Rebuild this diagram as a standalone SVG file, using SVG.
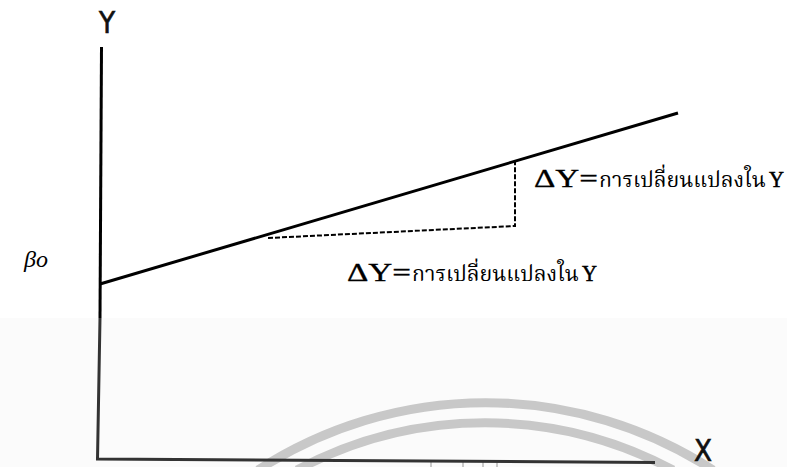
<svg xmlns="http://www.w3.org/2000/svg" width="787" height="467" viewBox="0 0 787 467">
<style>
.axis{stroke:#000;stroke-width:3;fill:none}
.ax2{stroke:#333;stroke-width:3;fill:none}
.wm{stroke:#c8c8c8;stroke-width:9;fill:none}
.dash{stroke:#000;stroke-width:2;fill:none;stroke-dasharray:5 2}
.lbl{font-family:"DejaVu Sans",sans-serif;font-size:31px;fill:#111;stroke:#111;stroke-width:0.7}
.eq{font-family:"Liberation Serif","Noto Serif Thai","Noto Sans Thai",serif;fill:#000}
.big{font-size:25px;stroke:#000;stroke-width:0.3}
.ylast{font-size:24px;stroke:#000;stroke-width:0.6}
.th{font-size:21.3px}
.beta{font-family:"Liberation Serif",serif;font-style:italic;font-size:24px;fill:#000}
</style>
<rect x="0" y="0" width="787" height="467" fill="#fff"/>
<rect x="0" y="318" width="787" height="149" fill="#fbfbfb"/>
<g id="watermark">
<path class="wm" d="M 258 470 A 418 418 0 0 1 713 470"/>
<path class="wm" d="M 297 470 A 398 398 0 0 1 673 470"/>
<g stroke="#c8c8c8" stroke-width="2">
<line x1="431" y1="462" x2="431" y2="467"/>
<line x1="463" y1="460" x2="463" y2="467"/>
<line x1="483" y1="460" x2="483" y2="467"/>
<line x1="497" y1="460" x2="497" y2="467"/>
</g>
</g>
<g id="axes">
<path class="axis" d="M 101.5 47 L 100 318"/>
<path class="ax2" d="M 100 318 L 97.5 459 L 655 462.5"/>
</g>
<g id="labels">
<text class="lbl" transform="translate(99,33) scale(0.85,1)" x="0" y="0">Y</text>
<text class="lbl" transform="translate(694,461) scale(0.85,1)" x="0" y="0">X</text>
<text class="beta" x="24" y="267">βo</text>
</g>
<g id="connectors">
<line class="axis" x1="100" y1="284" x2="678" y2="113" stroke-width="3.5"/>
<path class="dash" d="M 268 238 L 515 226 L 515 162"/>
</g>
<g id="label-right">
<text class="eq big" x="534" y="187" textLength="64" lengthAdjust="spacingAndGlyphs">ΔY=</text>
<text class="eq th" x="599" y="187">การเปลี่ยนแปลงใน</text>
<text class="eq ylast" x="769" y="187" textLength="15" lengthAdjust="spacingAndGlyphs">Y</text>
</g>
<g id="label-bottom">
<text class="eq big" x="347" y="281" textLength="64" lengthAdjust="spacingAndGlyphs">ΔY=</text>
<text class="eq th" x="412" y="281">การเปลี่ยนแปลงใน</text>
<text class="eq ylast" x="582" y="281" textLength="15" lengthAdjust="spacingAndGlyphs">Y</text>
</g>
</svg>
